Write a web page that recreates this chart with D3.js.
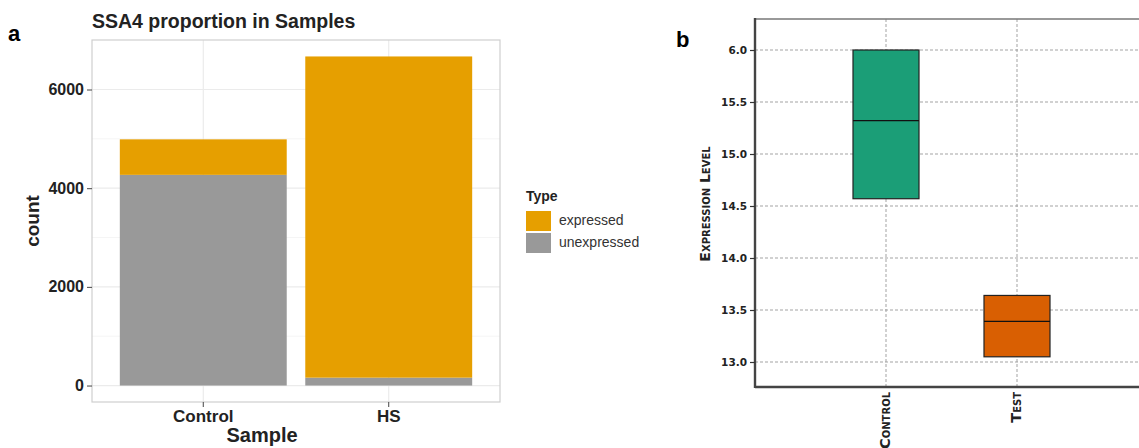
<!DOCTYPE html>
<html>
<head>
<meta charset="utf-8">
<script src="https://cdn.jsdelivr.net/npm/d3@7"></script>
<style>
  body { margin: 0; background: #fff; }
  svg { display: block; }
</style>
</head>
<body>
<svg id="svg" width="1139" height="448"></svg>
<script>
// ---- data, panel a ----
var samples = ["Control", "HS"];
var types = ["expressed", "unexpressed"];
var expressed = [720, 6510];
var unexpressed = [4270, 160];
var countTicks = [0, 2000, 4000, 6000];

// ---- data, panel b ----
var groups = ["CONTROL", "TEST"];
var groupLabels = ["Control", "Test"];
var q1 = [14.57, 13.05];
var median = [15.32, 13.39];
var q3 = [16.0, 13.64];
var levelTicks = [13.0, 13.5, 14.0, 14.5, 15.0, 15.5, 16.0];
var levelTickLabels = ["13.0", "13.5", "14.0", "14.5", "15.0", "15.5", "6.0"];

var svg = d3.select("#svg");
var colA = {expressed: "#E69F00", unexpressed: "#999999"};
var colB = ["#1b9e77", "#d95f02"];

// ================= panel a =================
var pa = {left: 92, right: 500, top: 40, bottom: 402};
var totals = samples.map(function(d, i){ return expressed[i] + unexpressed[i]; });
var ymax = d3.max(totals);

var ya = d3.scaleLinear().domain([-0.05 * ymax, 1.05 * ymax]).range([pa.bottom, pa.top]);
// ggplot style: bar width 0.9, 0.6 units of expansion each side
var xa = d3.scaleBand().domain(samples).range([pa.left, pa.right]).paddingInner(0.1).paddingOuter(0.15);

var ga = svg.append("g");
ga.append("rect").attr("x", pa.left).attr("y", pa.top)
  .attr("width", pa.right - pa.left).attr("height", pa.bottom - pa.top)
  .attr("fill", "#fff");

// minor grid
[1000, 3000, 5000].forEach(function(v){
  ga.append("line").attr("x1", pa.left).attr("x2", pa.right)
    .attr("y1", ya(v)).attr("y2", ya(v))
    .attr("stroke", "#f2f2f2").attr("stroke-width", 0.8);
});
// major grid
countTicks.forEach(function(v){
  ga.append("line").attr("x1", pa.left).attr("x2", pa.right)
    .attr("y1", ya(v)).attr("y2", ya(v))
    .attr("stroke", "#ebebeb").attr("stroke-width", 1.2);
});
samples.forEach(function(s){
  var cx = xa(s) + xa.bandwidth() / 2;
  ga.append("line").attr("x1", cx).attr("x2", cx)
    .attr("y1", pa.top).attr("y2", pa.bottom)
    .attr("stroke", "#ebebeb").attr("stroke-width", 1.2);
});

// stacked bars
var rows = samples.map(function(s, i){ return {Sample: s, expressed: expressed[i], unexpressed: unexpressed[i]}; });
var stack = d3.stack().keys(["unexpressed", "expressed"])(rows);
ga.selectAll("g.layer").data(stack).enter().append("g")
  .attr("fill", function(d){ return colA[d.key]; })
  .selectAll("rect").data(function(d){ return d; }).enter().append("rect")
  .attr("x", function(d){ return xa(d.data.Sample); })
  .attr("width", xa.bandwidth())
  .attr("y", function(d){ return ya(d[1]); })
  .attr("height", function(d){ return ya(d[0]) - ya(d[1]); });

// panel border
ga.append("rect").attr("x", pa.left).attr("y", pa.top)
  .attr("width", pa.right - pa.left).attr("height", pa.bottom - pa.top)
  .attr("fill", "none").attr("stroke", "#cfcfcf").attr("stroke-width", 1.2);

var fontA = "Liberation Sans, Arial, sans-serif";

// axes
var yAxisA = d3.axisLeft(ya).tickValues(countTicks).tickSize(5).tickPadding(3).tickFormat(d3.format("d"));
var gya = ga.append("g").attr("transform", "translate(" + pa.left + ",0)").call(yAxisA);
gya.select(".domain").remove();
gya.selectAll("line").attr("stroke", "#444");
gya.selectAll("text").attr("font-family", fontA)
  .attr("font-size", 16).attr("font-weight", "bold").attr("fill", "#222");

var xAxisA = d3.axisBottom(xa).tickSize(5).tickPadding(3);
var gxa = ga.append("g").attr("transform", "translate(0," + pa.bottom + ")").call(xAxisA);
gxa.select(".domain").remove();
gxa.selectAll("line").attr("stroke", "#444");
gxa.selectAll("text").attr("font-family", fontA)
  .attr("font-size", 17).attr("font-weight", "bold").attr("fill", "#222");

svg.append("text").attr("x", 92).attr("y", 28).text("SSA4 proportion in Samples")
  .attr("font-family", fontA).attr("font-size", 19.5).attr("font-weight", "bold").attr("fill", "#222");
svg.append("text").attr("x", 8).attr("y", 41).text("a")
  .attr("font-family", fontA).attr("font-size", 22).attr("font-weight", "bold").attr("fill", "#000");
svg.append("text").attr("x", 262).attr("y", 442).text("Sample")
  .attr("text-anchor", "middle")
  .attr("font-family", fontA).attr("font-size", 20).attr("font-weight", "bold").attr("fill", "#222");
svg.append("text").attr("transform", "translate(39,221) rotate(-90)").text("count")
  .attr("text-anchor", "middle")
  .attr("font-family", fontA).attr("font-size", 19).attr("font-weight", "bold").attr("fill", "#222");

// legend
var lg = svg.append("g").attr("transform", "translate(526,0)");
lg.append("text").attr("x", 0).attr("y", 201).text("Type")
  .attr("font-family", fontA).attr("font-size", 14).attr("font-weight", "bold").attr("fill", "#222");
lg.selectAll("rect.key").data(types).enter().append("rect")
  .attr("x", 0).attr("y", function(d, i){ return 211 + i * 22; })
  .attr("width", 25).attr("height", 20)
  .attr("fill", function(d){ return colA[d]; });
lg.selectAll("text.key").data(types).enter().append("text")
  .attr("x", 33).attr("y", function(d, i){ return 225 + i * 22; })
  .text(function(d){ return d; })
  .attr("font-family", fontA).attr("font-size", 14).attr("fill", "#333");

// ================= panel b =================
var pb = {left: 755, top: 19, bottom: 387};
var yb = d3.scaleLinear().domain([13.0, 16.0]).range([362, 50]);
var xb = d3.scalePoint().domain(groups).range([pb.left, pb.left + 131 * 3]).padding(1);
var boxW = 66;
var fontB = "DejaVu Sans, Verdana, sans-serif";

var gb = svg.append("g");
// grid
levelTicks.forEach(function(v){
  gb.append("line").attr("x1", pb.left).attr("x2", 1139)
    .attr("y1", yb(v)).attr("y2", yb(v))
    .attr("stroke", "#999").attr("stroke-width", 0.9).attr("stroke-dasharray", "3,2");
});
groups.forEach(function(g){
  gb.append("line").attr("x1", xb(g)).attr("x2", xb(g))
    .attr("y1", pb.top).attr("y2", pb.bottom)
    .attr("stroke", "#999").attr("stroke-width", 0.9).attr("stroke-dasharray", "3,2");
});

// boxes
var boxes = groups.map(function(g, i){ return {g: g, q1: q1[i], med: median[i], q3: q3[i], c: colB[i]}; });
gb.selectAll("rect.box").data(boxes).enter().append("rect")
  .attr("x", function(d){ return xb(d.g) - boxW / 2; })
  .attr("width", boxW)
  .attr("y", function(d){ return yb(d.q3); })
  .attr("height", function(d){ return yb(d.q1) - yb(d.q3); })
  .attr("fill", function(d){ return d.c; })
  .attr("stroke", "#222").attr("stroke-width", 1.2);
gb.selectAll("line.med").data(boxes).enter().append("line")
  .attr("x1", function(d){ return xb(d.g) - boxW / 2; })
  .attr("x2", function(d){ return xb(d.g) + boxW / 2; })
  .attr("y1", function(d){ return yb(d.med); })
  .attr("y2", function(d){ return yb(d.med); })
  .attr("stroke", "#111").attr("stroke-width", 1.3);

// frame
gb.append("line").attr("x1", pb.left).attr("x2", 1139).attr("y1", pb.top).attr("y2", pb.top)
  .attr("stroke", "#777").attr("stroke-width", 1.6);
gb.append("line").attr("x1", pb.left).attr("x2", 1139).attr("y1", pb.bottom).attr("y2", pb.bottom)
  .attr("stroke", "#444").attr("stroke-width", 2.4);
gb.append("line").attr("x1", pb.left).attr("x2", pb.left).attr("y1", pb.top - 1).attr("y2", pb.bottom + 1)
  .attr("stroke", "#444").attr("stroke-width", 2.4);

// y axis ticks
var yAxisB = d3.axisLeft(yb).tickValues(levelTicks).tickSize(5).tickPadding(3)
  .tickFormat(function(d, i){ return levelTickLabels[i]; });
var gyb = gb.append("g").attr("transform", "translate(" + pb.left + ",0)").call(yAxisB);
gyb.select(".domain").remove();
gyb.selectAll("line").attr("stroke", "#333").attr("stroke-width", 1.2);
gyb.selectAll("text").attr("font-family", fontB).attr("font-size", 10.5)
  .attr("font-weight", "bold").attr("fill", "#222");

// x labels, rotated
gb.selectAll("text.cat").data(groups).enter().append("text")
  .attr("transform", function(d){ return "translate(" + (xb(d) + 4) + ",392) rotate(-90)"; })
  .attr("text-anchor", "end")
  .text(function(d, i){ return groupLabels[i]; })
  .attr("font-family", fontB).attr("font-size", 14.5).attr("font-weight", "bold")
  .style("font-variant", "small-caps").attr("fill", "#222");

svg.append("text").attr("transform", "translate(710,204) rotate(-90)").text("Expression Level")
  .attr("text-anchor", "middle")
  .attr("font-family", fontB).attr("font-size", 14).attr("font-weight", 600)
  .style("font-variant", "small-caps").attr("fill", "#222");

svg.append("text").attr("x", 676).attr("y", 47).text("b")
  .attr("font-family", fontA).attr("font-size", 22).attr("font-weight", "bold").attr("fill", "#000");
</script>
</body>
</html>
